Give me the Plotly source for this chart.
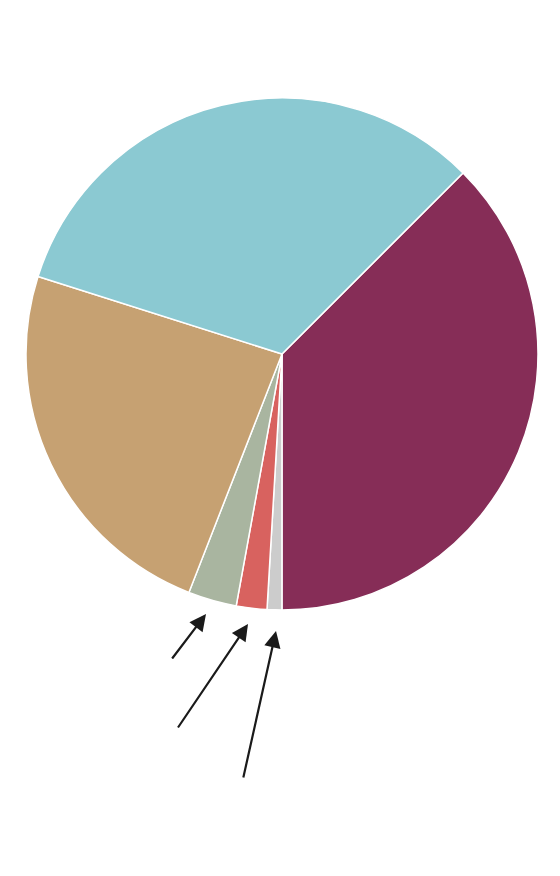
import plotly.graph_objects as go

categories = ["Category 1", "Category 2", "Category 3", "Category 4", "Category 5", "Category 6"]
values = [37.5, 0.93, 1.93, 3.06, 23.97, 32.6]
colors = ["#862D57", "#CCCCCC", "#D8625F", "#A9B5A0", "#C6A172", "#8BC9D2"]

# page body has an 8px margin; compensate
OFF = 8
W, H = 560 - OFF, 876 - OFF
ml, mt = 26 - OFF, 98 - OFF
mr = 22
mb = 266
pw, ph = W - ml - mr, H - mt - mb

fig = go.Figure(go.Pie(
    labels=categories,
    values=values,
    sort=False,
    direction="clockwise",
    rotation=45,
    textinfo="none",
    marker=dict(colors=colors, line=dict(color="white", width=1.5)),
    showlegend=False,
))

def px2paper(x, y):
    x, y = x - OFF, y - OFF
    return (x - ml) / pw, (H - mb - y) / ph

arrows = [((206, 614), (171, 660)), ((248, 624), (177, 729)), ((276, 631), (243, 779))]
for (tx, ty), (sx, sy) in arrows:
    xp, yp = px2paper(tx, ty)
    fig.add_annotation(
        x=xp, y=yp, xref="paper", yref="paper",
        ax=sx - tx, ay=sy - ty, axref="pixel", ayref="pixel",
        text="", showarrow=True, arrowhead=2, arrowsize=1.5, arrowwidth=2.2,
        arrowcolor="#1a1a1a", standoff=0, startstandoff=0,
    )

fig.update_layout(
    width=W, height=H,
    margin=dict(l=ml, r=mr, t=mt, b=mb, pad=0),
    paper_bgcolor="white", plot_bgcolor="white",
)

fig.write_html("out.html")
